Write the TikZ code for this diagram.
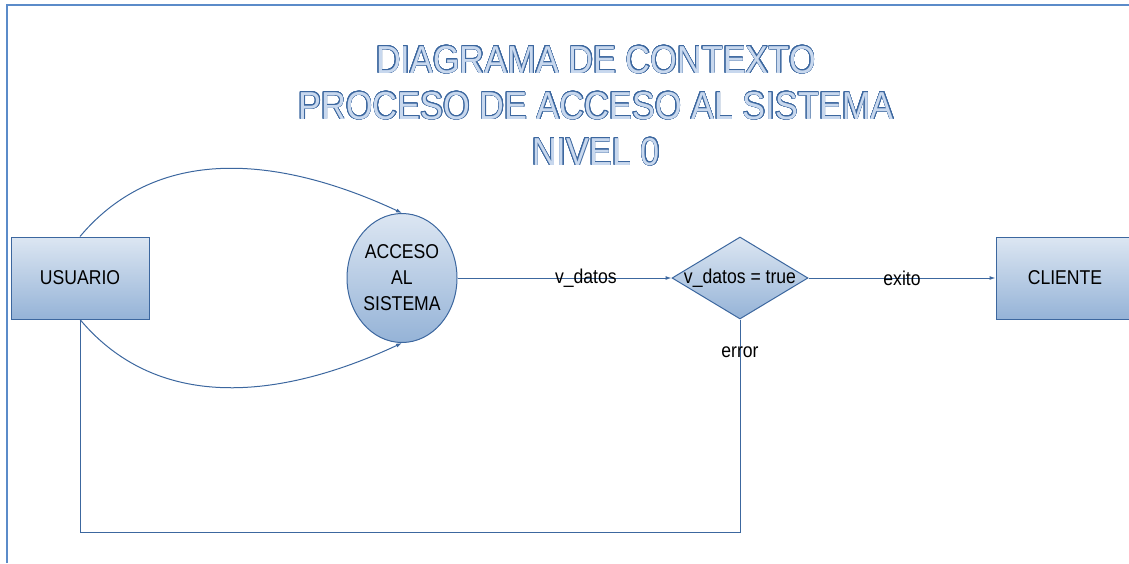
\documentclass[tikz,border=0pt]{standalone}
\usepackage{fontspec}
\setmainfont{Liberation Sans}[FakeStretch=0.88]
\usepackage[copies]{contour}
\usetikzlibrary{arrows.meta,shapes,positioning}
\definecolor{linea}{HTML}{3C679F}
\definecolor{claro}{HTML}{DCE6F2}
\definecolor{oscuro}{HTML}{95B3D7}
\definecolor{marco}{HTML}{5B8BC9}
\definecolor{relleno}{HTML}{C8D8EE}
\contourlength{0.6pt}
\contournumber{24}
\tikzset{
  basic/.style    = {draw=linea, line width=1pt, top color=claro, bottom color=oscuro,
                     font=\fontsize{20}{26}\selectfont, inner sep=0pt},
  entity/.style   = {basic, rectangle, minimum width=138pt, minimum height=82pt},
  process/.style  = {basic, ellipse, align=center, minimum width=110pt,
                     minimum height=129pt},
  decision/.style = {basic, diamond, minimum width=136pt, minimum height=82pt},
  link/.style     = {draw=linea, line width=1pt},
  flow/.style     = {link, ->},
  tag/.style      = {font=\fontsize{20}{24}\selectfont, inner sep=0pt}
}
\newcommand{\titleline}[1]{\textcolor{relleno}{\contour{linea}{#1}}}

\begin{document}
\begin{tikzpicture}[x=1pt, y=-1pt, >={Latex[length=6pt,width=4pt]}]

  \useasboundingbox (0,0) rectangle (1129,563);

  % page frame
  \draw[marco, line width=2pt] (7,563) -- (7,5) -- (1135,5);

  % title
  \node[font=\fontsize{39}{46}\selectfont, align=center] (title) at (596,106)
  {\titleline{DIAGRAMA DE CONTEXTO}\\ \titleline{PROCESO DE ACCESO AL SISTEMA}\\
   \titleline{NIVEL 0}};

  % entities, process and decision
  \node[entity]   (usr) at (80,278)   {USUARIO};
  \node[process]  (acc) at (402,278)  {ACCESO\\AL\\SISTEMA};
  \node[decision] (dec) at (740,278)  {\makebox[0pt]{v\_datos = true}};
  \node[entity]   (cli) at (1065,278) {CLIENTE};

  % flows between them
  \draw[flow] (usr.north) to[out=50, in=155] (acc.north);
  \draw[flow] (usr.south) to[out=-50, in=-155] (acc.south);
  \draw[flow] (acc.east) -- node[tag, pos=0.6] (vd) {v\_datos} (dec.west);
  \draw[flow] (dec.east) -- node[tag] (ex) {exito} (cli.west);

  % return on error
  \coordinate (ret) at (740,532);
  \draw[link] (dec.south) -- node[tag, pos=0.155] (er) {error} (ret) -| (usr.south);

\end{tikzpicture}
\end{document}
